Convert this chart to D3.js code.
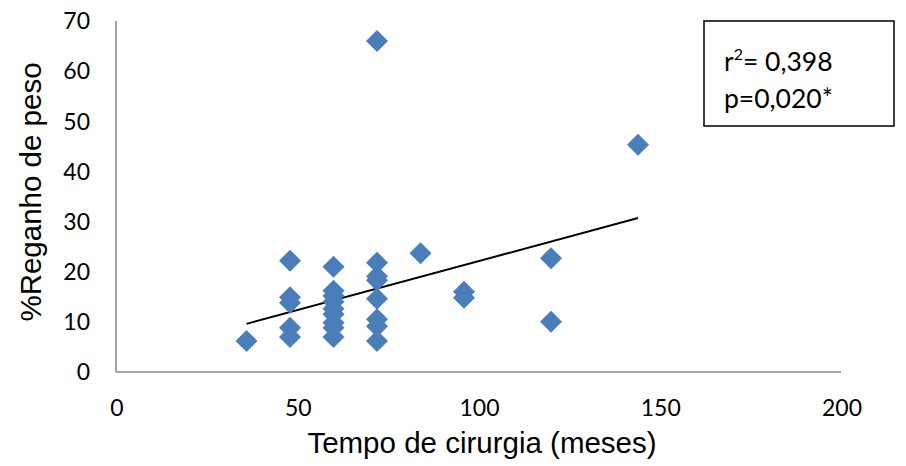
<!DOCTYPE html>
<html>
<head>
<meta charset="utf-8">
<script src="https://cdn.jsdelivr.net/npm/d3@7"></script>
<style>
  html, body { margin: 0; padding: 0; background: #ffffff; }
  svg { display: block; }
</style>
</head>
<body>
<svg id="chart" width="906" height="466"></svg>
<script>
// ---- data ----
const months = [36, 48, 48, 48, 48, 48,
  60, 60, 60, 60, 60, 60, 60, 60, 60,
  72, 72, 72, 72, 72, 72, 72, 72,
  84, 96, 96, 120, 120, 144];
const regain = [6.2, 22.2, 14.9, 13.8, 8.8, 7.0,
  21.0, 16.2, 15.2, 14.0, 12.6, 11.5, 9.8, 8.8, 7.0,
  66.0, 21.8, 19.1, 18.3, 14.6, 10.5, 9.1, 6.2,
  23.7, 16.0, 14.8, 22.7, 10.0, 45.3];
const trendX = [36, 144];
const trendY = [9.6, 30.7];
const xTicks = [0, 50, 100, 150, 200];
const yTicks = [0, 10, 20, 30, 40, 50, 60, 70];
const statsLines = ["= 0,398", "p=0,020*"];

// ---- layout ----
const svg = d3.select("#chart");
const x = d3.scaleLinear().domain([0, 200]).range([116, 841]);
const y = d3.scaleLinear().domain([0, 70]).range([372, 21]);

const axisColor = "#898989";
const tickFont = "Lato, 'Open Sans', sans-serif";
const titleFont = "'Liberation Sans', Arial, sans-serif";

// axes lines
svg.append("line").attr("x1", x(0)).attr("x2", x(200)).attr("y1", y(0)).attr("y2", y(0))
  .attr("stroke", axisColor).attr("stroke-width", 1.5);
svg.append("line").attr("x1", x(0)).attr("x2", x(0)).attr("y1", y(0)).attr("y2", y(70))
  .attr("stroke", axisColor).attr("stroke-width", 1.5);

// tick labels
svg.append("g").selectAll("text").data(yTicks).join("text")
  .attr("x", 90).attr("y", d => y(d)).attr("dy", "0.36em")
  .attr("text-anchor", "end")
  .attr("font-family", tickFont).attr("font-size", 23)
  .attr("fill", "#000").text(d => d);

svg.append("g").selectAll("text").data(xTicks).join("text")
  .attr("x", d => x(d) + 1).attr("y", 408).attr("dy", "0.36em")
  .attr("text-anchor", "middle")
  .attr("font-family", tickFont).attr("font-size", 23)
  .attr("fill", "#000").text(d => d);

// axis titles
svg.append("text").attr("x", 482).attr("y", 453)
  .attr("text-anchor", "middle")
  .attr("font-family", titleFont).attr("font-size", 29.5)
  .attr("fill", "#000").text("Tempo de cirurgia (meses)");

svg.append("text")
  .attr("transform", "translate(41,192) rotate(-90)")
  .attr("text-anchor", "middle")
  .attr("font-family", titleFont).attr("font-size", 29.5)
  .attr("fill", "#000").text("%Reganho de peso");

// trend line
svg.append("line")
  .attr("x1", x(trendX[0])).attr("y1", y(trendY[0]))
  .attr("x2", x(trendX[1])).attr("y2", y(trendY[1]))
  .attr("stroke", "#000").attr("stroke-width", 2);

// points (diamonds)
const pts = months.map((m, i) => ({ m, v: regain[i] }));
const r = 11;
svg.append("g").selectAll("path").data(pts).join("path")
  .attr("d", d => {
    const cx = x(d.m), cy = y(d.v);
    return `M${cx},${cy - r}L${cx + r},${cy}L${cx},${cy + r}L${cx - r},${cy}Z`;
  })
  .attr("fill", "#4a7ebb");

// stats box
svg.append("rect").attr("x", 704).attr("y", 21).attr("width", 190).attr("height", 105)
  .attr("fill", "#fff").attr("stroke", "#000").attr("stroke-width", 1.5);

const t1 = svg.append("text").attr("x", 724).attr("y", 71)
  .attr("font-family", tickFont).attr("font-size", 26.5).attr("fill", "#000");
t1.append("tspan").text("r");
t1.append("tspan").attr("dy", -11).attr("font-size", 16).text("2");
t1.append("tspan").attr("dy", 11).text(statsLines[0]);

svg.append("text").attr("x", 724).attr("y", 108)
  .attr("font-family", tickFont).attr("font-size", 26.5).attr("fill", "#000")
  .text(statsLines[1]);
</script>
</body>
</html>
